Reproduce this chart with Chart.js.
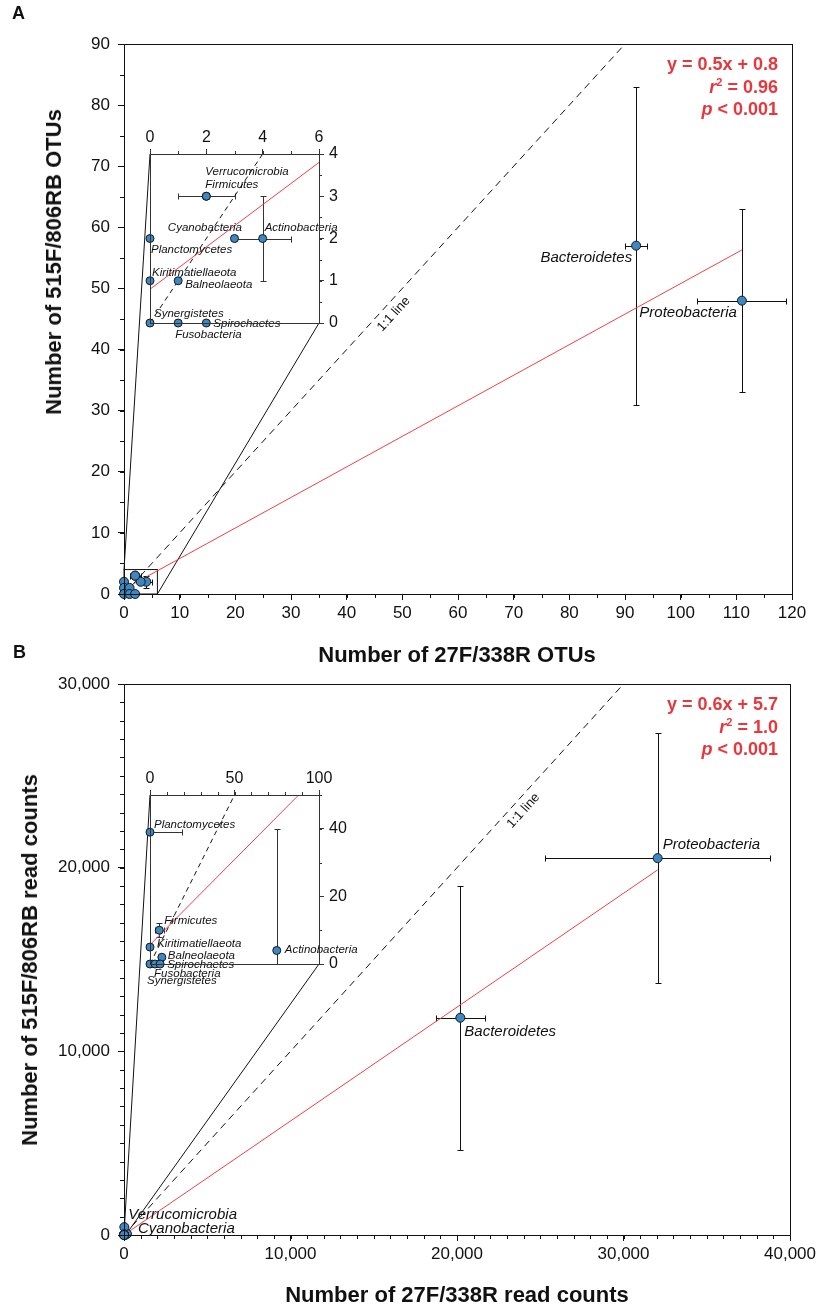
<!DOCTYPE html>
<html>
<head>
<meta charset="utf-8">
<script src="https://cdn.jsdelivr.net/npm/chart.js@4.4.1/dist/chart.umd.min.js"></script>
<style>
  body { margin:0; background:#fff; width:821px; height:1305px; position:relative; overflow:hidden;
         font-family:'Liberation Sans', Arial, Helvetica, sans-serif; color:#111; }
  canvas { position:absolute; }
  .t { position:absolute; white-space:nowrap; line-height:1; }
  .letter { font-weight:bold; font-size:18px; }
  .xt { font-weight:bold; font-size:22px; transform:translateX(-50%); }
  .yt { font-weight:bold; font-size:22px; transform:translate(-50%,-50%) rotate(-90deg); }
  .eq { font-weight:bold; font-size:18px; color:#e8373c; text-align:right; right:43px; }
  .eq sup { font-size:11px; vertical-align:top; position:relative; top:-1px; }
</style>
</head>
<body>
<canvas id="mainA"  style="left:0;top:0;width:821px;height:650px"  width="821" height="650"></canvas>
<canvas id="insetA" style="left:100px;top:110px;width:260px;height:250px" width="260" height="250"></canvas>
<canvas id="mainB"  style="left:0;top:650px;width:821px;height:655px" width="821" height="655"></canvas>
<canvas id="insetB" style="left:100px;top:751px;width:260px;height:250px" width="260" height="250"></canvas>

<div class="t letter" style="left:12px;top:4px">A</div>
<div class="t letter" style="left:13px;top:643px">B</div>

<div class="t yt" style="left:54px;top:262px">Number of 515F/806RB OTUs</div>
<div class="t xt" style="left:457px;top:644px">Number of 27F/338R OTUs</div>
<div class="t yt" style="left:30px;top:960px">Number of 515F/806RB read counts</div>
<div class="t xt" style="left:457px;top:1284px">Number of 27F/338R read counts</div>

<div class="t eq" style="top:55px">y = 0.5x + 0.8</div>
<div class="t eq" style="top:78px"><i>r</i><sup>2</sup> = 0.96</div>
<div class="t eq" style="top:100px"><i>p</i> &lt; 0.001</div>
<div class="t eq" style="top:695px">y = 0.6x + 5.7</div>
<div class="t eq" style="top:718px"><i>r</i><sup>2</sup> = 1.0</div>
<div class="t eq" style="top:740px"><i>p</i> &lt; 0.001</div>

<script>
// ── Data ──────────────────────────────────────────────────────────────────────
const phyla = ['Proteobacteria','Bacteroidetes','Actinobacteria','Cyanobacteria','Firmicutes',
               'Verrucomicrobia','Planctomycetes','Kiritimatiellaeota','Balneolaeota',
               'Synergistetes','Fusobacteria','Spirochaetes'];

// A — OTU counts (mean and error range per phylum)
const otu27F    = [111, 92, 4, 3, 2, 2, 0, 0, 1, 0, 1, 2];
const otu515F   = [48, 57, 2, 2, 3, 3, 2, 1, 1, 0, 0, 0];
const otu27FLo  = [103, 90, 3, null, 1, null, null, null, null, null, null, null];
const otu27FHi  = [119, 94, 5, null, 3, null, null, null, null, null, null, null];
const otu515FLo = [33, 31, 1, null, null, null, null, null, null, null, null, null];
const otu515FHi = [63, 83, 3, null, null, null, null, null, null, null, null, null];
const fitA      = [0.5, 0.8];          // slope, intercept
const fitXA     = [0, 111];

// B — read counts
const reads27F    = [32050, 20200, 75, 180, 5.5, 20, 0, 0, 7, 0, 3, 6];
const reads515F   = [20520, 11830, 4, 60, 10, 430, 39, 5, 2, 0, 0, 0];
const reads27FLo  = [25300, 18750, null, null, 3, null, -19, null, null, null, null, null];
const reads27FHi  = [38800, 21700, null, null, 8, null, 19, null, null, null, null, null];
const reads515FLo = [13700, 4630, -32, null, 8, null, null, null, null, null, null, null];
const reads515FHi = [27350, 19000, 40, null, 12, null, null, null, null, null, null, null];
const fitB        = [0.62, 5.7];
const fitXB       = [0, 32050];

// axes
const ticksAX      = [0, 10, 20, 30, 40, 50, 60, 70, 80, 90, 100, 110, 120];
const ticksAY      = [0, 10, 20, 30, 40, 50, 60, 70, 80, 90];
const ticksInsetAX = [0, 2, 4, 6];
const ticksInsetAY = [0, 1, 2, 3, 4];
const ticksBX      = [0, 10000, 20000, 30000, 40000];
const ticksBY      = [0, 10000, 20000, 30000];
const ticksInsetBX = [0, 50, 100];
const ticksInsetBY = [0, 20, 40];
const insetXA = [0, 6],   insetYA = [0, 4];
const insetXB = [0, 100], insetYB = [0, 50];

// ── Label placement (px from point: dx, dy, align) ────────────────────────────
const labelsMainA = { Bacteroidetes:[-4,16,'right'], Proteobacteria:[-5,16,'right'] };
const labelsInsetA = {
  Verrucomicrobia:[-1,-21,'left'], Firmicutes:[-1,-8,'left'], Cyanobacteria:[7.5,-7.5,'right'],
  Actinobacteria:[2,-7.5,'left'], Planctomycetes:[1,14.5,'left'], Kiritimatiellaeota:[2,-5,'left'],
  Balneolaeota:[7,7,'left'], Synergistetes:[4,-6,'left'], Spirochaetes:[7,4,'left'], Fusobacteria:[-3,15,'left'],
};
const labelsMainB = { Proteobacteria:[5,-9,'left'], Bacteroidetes:[4,18,'left'],
                      Verrucomicrobia:[4,-8,'left'], Cyanobacteria:[11,-1,'left'] };
const labelsInsetB = {
  Planctomycetes:[4,-4.5,'left'], Firmicutes:[5,-6.5,'left'], Kiritimatiellaeota:[7,0,'left'],
  Balneolaeota:[6,1.5,'left'], Spirochaetes:[7,4,'left'], Fusobacteria:[-1,13,'left'],
  Synergistetes:[-3,20,'left'], Actinobacteria:[8,3,'left'],
};

// ── Styling ───────────────────────────────────────────────────────────────────
const FONT = "'Liberation Sans', Arial, Helvetica, sans-serif";
const BLUE = '#3d88c3', RED = '#ee4245';
Chart.defaults.font.family = FONT;
Chart.defaults.color = '#111';

const $ = id => document.getElementById(id);
const commas = v => String(v).replace(/\B(?=(\d{3})+(?!\d))/g, ',');
const offset = c => [parseFloat(c.style.left), parseFloat(c.style.top)];

// ── Plugin: error bars, labels, frame, minor ticks, inset connectors ─────────
const sketch = {
  id: 'sketch',
  beforeDatasetsDraw(chart, args, o) {
    const { ctx, chartArea: a, scales: { x, y } } = chart;
    ctx.save();
    ctx.beginPath(); ctx.rect(a.left, a.top, a.right - a.left, a.bottom - a.top); ctx.clip();
    ctx.strokeStyle = o.line; ctx.lineWidth = 1;
    const cap = 3;
    o.xs.forEach((xv, i) => {
      const px = Math.round(x.getPixelForValue(xv)) + 0.5, py = Math.round(y.getPixelForValue(o.ys[i])) + 0.5;
      if (o.xLo[i] != null) {
        const l = Math.round(x.getPixelForValue(o.xLo[i])) + 0.5, r = Math.round(x.getPixelForValue(o.xHi[i])) + 0.5;
        ctx.beginPath();
        ctx.moveTo(l, py); ctx.lineTo(r, py);
        ctx.moveTo(l, py - cap); ctx.lineTo(l, py + cap);
        ctx.moveTo(r, py - cap); ctx.lineTo(r, py + cap);
        ctx.stroke();
      }
      if (o.yLo[i] != null) {
        const b = Math.round(y.getPixelForValue(o.yLo[i])) + 0.5, t = Math.round(y.getPixelForValue(o.yHi[i])) + 0.5;
        ctx.beginPath();
        ctx.moveTo(px, b); ctx.lineTo(px, t);
        ctx.moveTo(px - cap, b); ctx.lineTo(px + cap, b);
        ctx.moveTo(px - cap, t); ctx.lineTo(px + cap, t);
        ctx.stroke();
      }
    });
    ctx.restore();

    if (o.inset) {
      const ins = o.inset.chart, [ix, iy] = offset(ins.canvas), [mx, my] = offset(chart.canvas);
      const dx = ix - mx, dy = iy - my;
      const [x0, x1] = o.inset.xr, [y0, y1] = o.inset.yr;
      ctx.save();
      ctx.strokeStyle = '#111'; ctx.lineWidth = 1;
      const l = x.getPixelForValue(x0), r = x.getPixelForValue(x1), b = y.getPixelForValue(y0), t = y.getPixelForValue(y1);
      ctx.strokeRect(l, t, r - l, b - t);
      ctx.beginPath();
      ctx.moveTo(l, t); ctx.lineTo(ins.scales.x.getPixelForValue(x0) + dx, ins.scales.y.getPixelForValue(y1) + dy);
      ctx.moveTo(r, b); ctx.lineTo(ins.scales.x.getPixelForValue(x1) + dx, ins.scales.y.getPixelForValue(y0) + dy);
      ctx.stroke();
      ctx.restore();
    }
  },
  afterDatasetsDraw(chart, args, o) {
    const { ctx, scales: { x, y } } = chart;
    ctx.save();
    ctx.fillStyle = '#111';
    ctx.font = `italic ${o.labelSize}px ${FONT}`;
    ctx.textBaseline = 'alphabetic';
    phyla.forEach((name, i) => {
      const p = o.labels[name]; if (!p) return;
      ctx.textAlign = p[2];
      ctx.fillText(name, x.getPixelForValue(o.xs[i]) + p[0], y.getPixelForValue(o.ys[i]) + p[1]);
    });
    if (o.oneToOne) {
      const x0 = x.getPixelForValue(0), y0 = y.getPixelForValue(0);
      const x1 = x.getPixelForValue(o.oneToOne[0]), y1 = y.getPixelForValue(o.oneToOne[0]);
      const th = Math.atan2(y1 - y0, x1 - x0), off = o.oneToOne[1];
      ctx.translate(x1 - Math.sin(th) * off, y1 + Math.cos(th) * off);
      ctx.rotate(th);
      ctx.font = `13px ${FONT}`; ctx.textAlign = 'center'; ctx.textBaseline = 'middle';
      ctx.fillText('1:1 line', 0, 0);
    }
    ctx.restore();
  },
  afterDraw(chart, args, o) {
    const { ctx, chartArea: a, scales } = chart;
    ctx.save();
    ctx.strokeStyle = o.line; ctx.lineWidth = 1;
    ctx.strokeRect(Math.round(a.left) + 0.5, Math.round(a.top) + 0.5, Math.round(a.right - a.left), Math.round(a.bottom - a.top));
    const minor = (s, step, len) => {
      const pos = s.options.position;
      ctx.beginPath();
      for (let v = s.min; v <= s.max + 1e-9; v += step) {
        const p = Math.round(s.getPixelForValue(v)) + 0.5;
        if (pos === 'bottom') { ctx.moveTo(p, a.bottom); ctx.lineTo(p, a.bottom + len); }
        if (pos === 'top')    { ctx.moveTo(p, a.top);    ctx.lineTo(p, a.top - len); }
        if (pos === 'left')   { ctx.moveTo(a.left, p);   ctx.lineTo(a.left - len, p); }
        if (pos === 'right')  { ctx.moveTo(a.right, p);  ctx.lineTo(a.right + len, p); }
      }
      ctx.stroke();
    };
    minor(scales.x, o.minor[0], o.minor[2]);
    minor(scales.y, o.minor[1], o.minor[2]);
    ctx.restore();
  },
};

// ── Builders ─────────────────────────────────────────────────────────────────
function axis(pos, range, ticks, o) {
  const vertical = pos === 'left' || pos === 'right';
  return {
    type: 'linear', position: pos, min: range[0], max: range[1],
    afterBuildTicks: s => { s.ticks = ticks.map(v => ({ value: v })); },
    afterFit: s => { if (vertical) s.width = o.size; else s.height = o.size; },
    ticks: { font: { size: o.font }, color: '#111', padding: o.pad, autoSkip: false, maxRotation: 0,
             callback: o.fmt || (v => v) },
    grid: { drawOnChartArea: false, tickLength: o.tick, color: o.line, lineWidth: 1 },
    border: { color: o.line, width: 1 },
  };
}

function makeChart(id, d) {
  return new Chart($(id), {
    type: 'scatter',
    data: { datasets: [
      { data: d.xs.map((x, i) => ({ x, y: d.ys[i] })), pointRadius: d.r, pointBackgroundColor: BLUE,
        pointBorderColor: '#161616', pointBorderWidth: 1, clip: 8, order: 0 },
      { type: 'line', data: d.fitX.map(x => ({ x, y: d.fit[0] * x + d.fit[1] })),
        borderColor: RED, borderWidth: 1, pointRadius: 0, order: 1 },
      { type: 'line', data: [{ x: 0, y: 0 }, { x: d.xr[1], y: d.xr[1] }],
        borderColor: '#111', borderWidth: 1, borderDash: d.dash, pointRadius: 0, order: 2 },
    ] },
    options: {
      responsive: false, devicePixelRatio: 1, animation: false, events: [],
      layout: { padding: d.pad },
      plugins: { legend: { display: false }, tooltip: { enabled: false }, sketch: d.sketch },
      scales: { x: d.x, y: d.y },
    },
    plugins: [sketch],
  });
}

// ── Panel A ──────────────────────────────────────────────────────────────────
const insetA = makeChart('insetA', {
  xs: otu27F, ys: otu515F, r: 4, fit: fitA, fitX: fitXA, xr: insetXA, dash: [5, 4],
  pad: { left: 50, top: 0, right: 0, bottom: 37 },
  x: axis('top', insetXA, ticksInsetAX, { size: 44, font: 16, pad: 2, tick: 5, line: '#333' }),
  y: axis('right', insetYA, ticksInsetAY, { size: 41, font: 16, pad: 5, tick: 5, line: '#333' }),
  sketch: { xs: otu27F, ys: otu515F, xLo: otu27FLo, xHi: otu27FHi, yLo: otu515FLo, yHi: otu515FHi,
            labels: labelsInsetA, labelSize: 11.5, line: '#333', minor: [1, 0.5, 3] },
});

makeChart('mainA', {
  xs: otu27F, ys: otu515F, r: 4.5, fit: fitA, fitX: fitXA, xr: [0, 120], dash: [7, 5],
  pad: { left: 0, top: 44, right: 29, bottom: 0 },
  x: axis('bottom', [0, 120], ticksAX, { size: 56, font: 17, pad: 3, tick: 6, line: '#111' }),
  y: axis('left', [0, 90], ticksAY, { size: 124, font: 17, pad: 8, tick: 6, line: '#111' }),
  sketch: { xs: otu27F, ys: otu515F, xLo: otu27FLo, xHi: otu27FHi, yLo: otu515FLo, yHi: otu515FHi,
            labels: labelsMainA, labelSize: 15, line: '#111', minor: [5, 5, 4], oneToOne: [47, 11],
            inset: { chart: insetA, xr: insetXA, yr: insetYA } },
});

// ── Panel B ──────────────────────────────────────────────────────────────────
const insetB = makeChart('insetB', {
  xs: reads27F, ys: reads515F, r: 4, fit: fitB, fitX: fitXB, xr: insetXB, dash: [5, 4],
  pad: { left: 50, top: 0, right: 0, bottom: 37 },
  x: axis('top', insetXB, ticksInsetBX, { size: 44, font: 16, pad: 2, tick: 5, line: '#333' }),
  y: axis('right', insetYB, ticksInsetBY, { size: 41, font: 16, pad: 5, tick: 5, line: '#333' }),
  sketch: { xs: reads27F, ys: reads515F, xLo: reads27FLo, xHi: reads27FHi, yLo: reads515FLo, yHi: reads515FHi,
            labels: labelsInsetB, labelSize: 11.5, line: '#333', minor: [10, 10, 3] },
});

makeChart('mainB', {
  xs: reads27F, ys: reads515F, r: 4.5, fit: fitB, fitX: fitXB, xr: [0, 40000], dash: [7, 5],
  pad: { left: 0, top: 34, right: 31, bottom: 0 },
  x: axis('bottom', [0, 40000], ticksBX, { size: 70, font: 17, pad: 3, tick: 6, line: '#111', fmt: commas }),
  y: axis('left', [0, 30000], ticksBY, { size: 124, font: 17, pad: 8, tick: 6, line: '#111', fmt: commas }),
  sketch: { xs: reads27F, ys: reads515F, xLo: reads27FLo, xHi: reads27FHi, yLo: reads515FLo, yHi: reads515FHi,
            labels: labelsMainB, labelSize: 15, line: '#111', minor: [1000, 1000, 4], oneToOne: [23500, 11],
            inset: { chart: insetB, xr: insetXB, yr: insetYB } },
});
</script>
</body>
</html>
